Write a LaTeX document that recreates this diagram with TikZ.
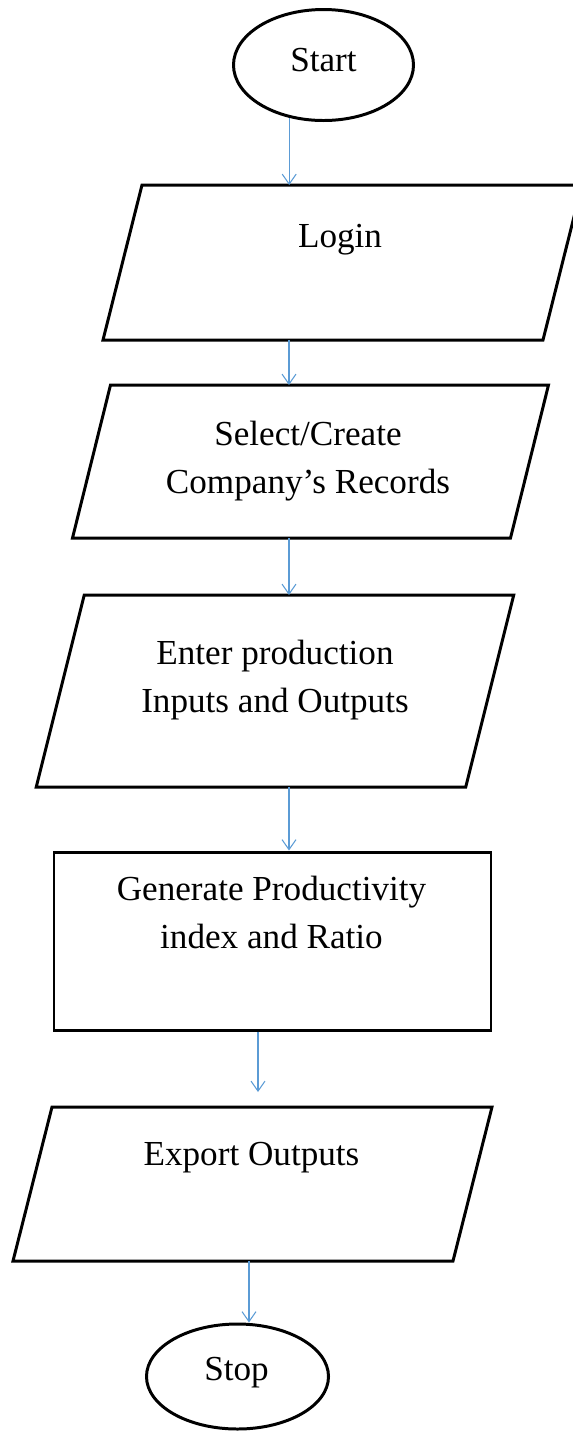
\documentclass[tikz,border=0pt]{standalone}
\usepackage{fontspec}
\setmainfont{Liberation Serif}
\usepackage{tikz}
\usetikzlibrary{arrows.meta,shapes.geometric}
\definecolor{flowblue}{RGB}{91,155,213}
\tikzset{
	box/.style={draw=black, line width=1.7pt, fill=white, inner sep=0pt},
	slanted/.style={rectangle, inner sep=0pt, outer sep=0pt},
	term/.style={box, ellipse},
	boxtext/.style={font=\fontsize{20}{27}\selectfont, align=center, inner sep=0pt},
	flow/.style={draw=flowblue, line width=0.6pt, -{Straight Barb[length=2mm,width=2.8mm]}}
}
\def\slantbox(#1)(#2){\draw[box] ([xshift=-#2]#1.south west) -- ([xshift=#2]#1.north west) -- ([xshift=#2]#1.north east) -- ([xshift=-#2]#1.south east) -- cycle;}

\begin{document}
\begin{tikzpicture}
			%%%%% START %%%%%
			
			\useasboundingbox (0, 0) rectangle (11.46, -28.62);
			\clip (0, 0) rectangle (11.46, -28.62);
			
			\node[term, minimum width=3.6cm, minimum height=2.22cm] (start) at (6.47, -1.30) {};
			\node[boxtext] (starttext) at (6.47, -1.20) {Start};
			
			\node[slanted, minimum width=8.8cm, minimum height=3.1cm] (login) at (6.85, -5.25) {};
			\slantbox(login)(0.39cm)
			\node[boxtext] (logintext) at (6.80, -4.80) {Login};
			
			\node[slanted, minimum width=8.76cm, minimum height=3.06cm] (select) at (6.21, -9.23) {};
			\slantbox(select)(0.38cm)
			\node[boxtext] (selecttext) at (6.16, -9.22) {Select/Create\\Company’s Records};
			
			\node[slanted, minimum width=8.59cm, minimum height=3.84cm] (enter) at (5.50, -13.82) {};
			\slantbox(enter)(0.48cm)
			\node[boxtext] (entertext) at (5.50, -13.60) {Enter production\\Inputs and Outputs};
			
			\node[box, rectangle, minimum width=8.74cm, minimum height=3.56cm] (generate) at (5.45, -18.82) {};
			\node[boxtext] (generatetext) at (5.43, -18.25) {Generate Productivity\\index and Ratio};
			
			\node[slanted, minimum width=8.8cm, minimum height=3.08cm] (export) at (5.05, -23.68) {};
			\slantbox(export)(0.39cm)
			\node[boxtext] (exporttext) at (5.03, -23.16) {Export Outputs};
			
			\node[term, minimum width=3.64cm, minimum height=2.1cm] (stop) at (4.75, -27.53) {};
			\node[boxtext] (stoptext) at (4.73, -27.46) {Stop};
			
			% arrows
			\coordinate (axis) at (5.78, 0);
			\coordinate (axisb) at (5.16, 0);
			\coordinate (axisc) at (4.98, 0);
			
			\draw[flow] (start.-123) -- (start.-123 |- login.north);
			\draw[flow] (axis |- login.south) -- (axis |- select.north);
			\draw[flow] (axis |- select.south) -- (axis |- enter.north);
			\draw[flow] (axis |- enter.south) -- (axis |- generate.north);
			\draw[flow, shorten >=0.3cm] (axisb |- generate.south) -- (axisb |- export.north);
			\draw[flow] (axisc |- export.south) -- (axisc |- stop.north);
			
			%%%%% END %%%%%
\end{tikzpicture}
\end{document}
